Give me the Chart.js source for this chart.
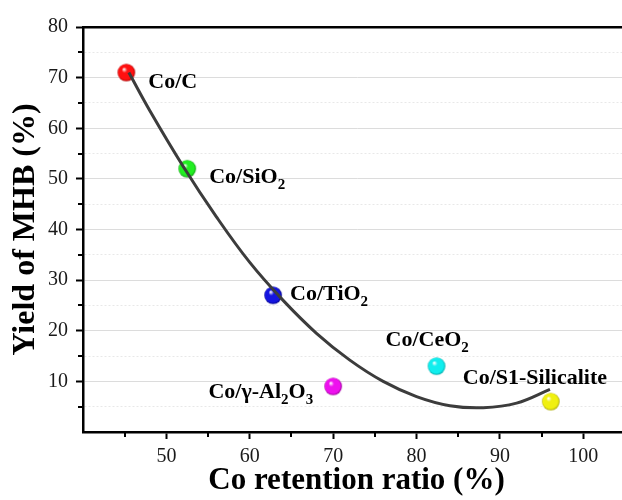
<!DOCTYPE html>
<html>
<head>
<meta charset="utf-8">
<script src="https://cdn.jsdelivr.net/npm/chart.js@4.4.0/dist/chart.umd.min.js"></script>
<style>
html, body { margin: 0; padding: 0; background: #fff; overflow: hidden; }
#wrap { width: 630px; height: 500px; position: relative; }
</style>
</head>
<body>
<div id="wrap"><canvas id="chart"></canvas></div>
<script>
// catalyst points ("_" marks a subscript digit)
const catalysts = ['Co/C', 'Co/SiO_2', 'Co/TiO_2', 'Co/γ-Al_2O_3', 'Co/CeO_2', 'Co/S1-Silicalite'];
const coRetention = [45.2, 52.5, 62.8, 70.0, 82.4, 96.1];
const mhbYield = [71, 52, 27, 9, 13, 6];

// fitted trend curve
const fitRetention = [45.5, 48, 52, 56, 60, 64, 68, 72, 76, 80, 84, 88, 92, 96];
const fitYield = [71, 63.5, 52.5, 42.5, 33.5, 26, 19.5, 14.2, 10, 7, 5.2, 4.8, 5.7, 8.4];

const xTicks = [45, 50, 55, 60, 65, 70, 75, 80, 85, 90, 95, 100];
const yTicks = [5, 10, 15, 20, 25, 30, 35, 40, 45, 50, 55, 60, 65, 70, 75, 80];

const sphereColors = ['#ff1010', '#22ee22', '#1414e0', '#ee10ee', '#10eeee', '#f0f010'];
const sphereEdges = ['#a00000', '#109010', '#000080', '#900090', '#00a0a0', '#a0a000'];

// label offsets from the point centre (text vertical centre)
const labelPlace = [
    { dx: 22, dy: 8, align: 'left' },
    { dx: 22, dy: 7, align: 'left' },
    { dx: 17, dy: -3, align: 'left' },
    { dx: -20, dy: 4, align: 'right' },
    { dx: -51, dy: -28, align: 'left' },
    { dx: -88, dy: -25, align: 'left' }
];

const serif = '"Liberation Serif", "Times New Roman", serif';

function sphere(color, edge) {
    const c = document.createElement('canvas');
    c.width = 20;
    c.height = 20;
    const g = c.getContext('2d');
    const grd = g.createRadialGradient(7.5, 6.5, 0.3, 10, 10, 9);
    grd.addColorStop(0, '#ffffff');
    grd.addColorStop(0.28, color);
    grd.addColorStop(0.82, color);
    grd.addColorStop(1, edge);
    g.fillStyle = grd;
    g.beginPath();
    g.arc(10, 10, 8.8, 0, Math.PI * 2);
    g.fill();
    return c;
}
const sphereImgs = sphereColors.map((c, i) => sphere(c, sphereEdges[i]));

// draws text with "_" subscripts
function drawRich(ctx, text, x, yMid, align) {
    const parts = text.split('_');
    const segs = [{ t: parts[0], sub: false }];
    for (let i = 1; i < parts.length; i++) {
        segs.push({ t: parts[i][0], sub: true });
        if (parts[i].length > 1) segs.push({ t: parts[i].slice(1), sub: false });
    }
    const big = 'bold 22px ' + serif;
    const small = 'bold 15px ' + serif;
    let total = 0;
    segs.forEach(s => {
        ctx.font = s.sub ? small : big;
        s.w = ctx.measureText(s.t).width;
        total += s.w;
    });
    let cx = align === 'right' ? x - total : x;
    const base = yMid + 7.5;
    ctx.fillStyle = '#000';
    ctx.textAlign = 'left';
    ctx.textBaseline = 'alphabetic';
    segs.forEach(s => {
        ctx.font = s.sub ? small : big;
        ctx.fillText(s.t, cx, s.sub ? base + 6 : base);
        cx += s.w;
    });
}

const extras = {
    id: 'extras',
    afterDatasetsDraw(chart) {
        const { ctx, scales: { x, y } } = chart;
        ctx.save();
        // minor ticks
        ctx.strokeStyle = '#000';
        ctx.lineWidth = 2;
        xTicks.filter(v => v % 10 !== 0).forEach(v => {
            const px = Math.round(x.getPixelForValue(v));
            ctx.beginPath();
            ctx.moveTo(px, y.bottom);
            ctx.lineTo(px, y.bottom + 5);
            ctx.stroke();
        });
        yTicks.filter(v => v % 10 !== 0).forEach(v => {
            const py = Math.round(y.getPixelForValue(v));
            ctx.beginPath();
            ctx.moveTo(x.left, py);
            ctx.lineTo(x.left - 5, py);
            ctx.stroke();
        });
        // point labels
        catalysts.forEach((name, i) => {
            const p = labelPlace[i];
            const px = x.getPixelForValue(coRetention[i]);
            const py = y.getPixelForValue(mhbYield[i]);
            drawRich(ctx, name, px + p.dx, py + p.dy, p.align);
        });
        ctx.restore();
    }
};

const isMajor = c => c.tick && c.tick.value % 10 === 0;
const noSidePad = s => { s.paddingLeft = 0; s.paddingRight = 0; };

new Chart(document.getElementById('chart'), {
    type: 'scatter',
    data: {
        datasets: [
            {
                label: 'fit',
                data: fitRetention.map((v, i) => ({ x: v, y: fitYield[i] })),
                showLine: true,
                tension: 0.4,
                borderColor: '#3c3c3c',
                borderWidth: 3,
                pointRadius: 0,
                pointHoverRadius: 0,
                order: 0
            },
            {
                label: 'catalysts',
                data: coRetention.map((v, i) => ({ x: v, y: mhbYield[i] })),
                pointStyle: sphereImgs,
                pointRadius: 9,
                order: 1
            }
        ]
    },
    options: {
        responsive: true,
        maintainAspectRatio: false,
        animation: false,
        layout: { padding: 0, autoPadding: false },
        plugins: { legend: { display: false }, tooltip: { enabled: false } },
        scales: {
            x: {
                type: 'linear',
                position: 'bottom',
                min: 40,
                max: 105.6,
                afterBuildTicks: s => { s.ticks = xTicks.map(v => ({ value: v })); },
                afterFit: s => { s.height = 68; noSidePad(s); },
                grid: {
                    drawOnChartArea: false,
                    drawTicks: true,
                    tickLength: 7,
                    tickWidth: 2,
                    tickColor: c => isMajor(c) ? '#000' : 'rgba(0,0,0,0)'
                },
                border: { color: '#000', width: 2.5 },
                ticks: {
                    font: { family: serif, size: 20 },
                    color: '#1a1a1a',
                    padding: 6,
                    maxRotation: 0,
                    autoSkip: false,
                    callback: v => v % 10 === 0 ? v : ''
                },
                title: {
                    display: true,
                    text: 'Co retention ratio (%)',
                    font: { family: serif, size: 31, weight: 'bold' },
                    color: '#000',
                    padding: 0
                }
            },
            xTop: {
                type: 'linear',
                position: 'top',
                min: 40,
                max: 105.6,
                afterFit: s => { s.height = 27; noSidePad(s); },
                grid: { drawOnChartArea: false, drawTicks: false },
                ticks: { display: false },
                border: { color: '#000', width: 2.5 }
            },
            y: {
                type: 'linear',
                min: 0,
                max: 80,
                afterBuildTicks: s => { s.ticks = yTicks.map(v => ({ value: v })); },
                afterFit: s => { s.width = 83; s.paddingTop = 0; s.paddingBottom = 0; },
                grid: {
                    color: c => isMajor(c) ? '#dcdcdc' : '#e8e8e8',
                    lineWidth: 1,
                    tickLength: 7,
                    tickWidth: 2,
                    tickColor: c => isMajor(c) ? '#000' : 'rgba(0,0,0,0)'
                },
                border: {
                    color: '#000',
                    width: 2.5,
                    dash: c => (c.tick && c.tick.value % 10 !== 0) ? [2, 2] : []
                },
                ticks: {
                    font: { family: serif, size: 20 },
                    color: '#1a1a1a',
                    padding: 8,
                    autoSkip: false,
                    callback: v => v % 10 === 0 ? v : ''
                },
                title: {
                    display: true,
                    text: 'Yield of MHB (%)',
                    font: { family: serif, size: 32, weight: 'bold' },
                    color: '#000',
                    padding: { top: 7, bottom: 0 }
                }
            }
        }
    },
    plugins: [extras]
});
</script>
</body>
</html>
